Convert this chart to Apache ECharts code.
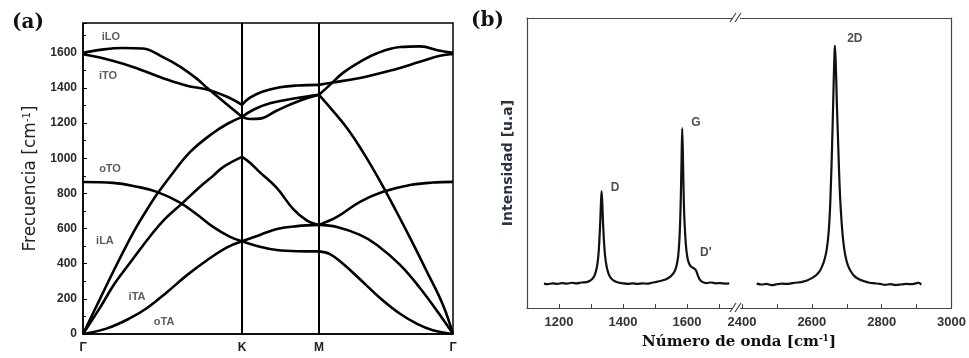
<!DOCTYPE html>
<html><head><meta charset="utf-8">
<script src="https://cdn.jsdelivr.net/npm/echarts@6/dist/echarts.min.js"></script>
<style>html,body{margin:0;padding:0;background:#fff}#c{width:969px;height:358px}</style>
</head><body><div id="c"></div>
<script>
// ---------- Panel (a): phonon dispersion of graphene ----------
// path coordinate: Γ = 0, K = 1, M = 1.484, Γ = 2.327
const pathTicks = [0, 1, 1.484, 2.327];
const pathLabels = ['Γ', 'K', 'M', 'Γ'];
const freqMax = 1770;
const freqStep = 200;

// Γ → K
const iLO_GK = [[0,1600],[0.107,1617],[0.25,1628],[0.377,1625],[0.503,1576],[0.61,1522],[0.717,1452],[0.78,1401],[0.906,1306],[1,1236]];
const iTO_GK = [[0,1592],[0.107,1573],[0.314,1520],[0.528,1448],[0.654,1413],[0.78,1391],[0.906,1350],[1,1304]];
const iLA_GK = [[0,0],[0.107,200],[0.189,353],[0.277,510],[0.34,615],[0.421,735],[0.465,795],[0.547,895],[0.673,1035],[0.818,1144],[0.912,1198],[1,1236]];
const iTA_GK = [[0,0],[0.107,150],[0.201,290],[0.296,405],[0.421,555],[0.516,655],[0.622,742],[0.736,838],[0.818,900],[0.881,950],[1,1008]];
const oTO_GK = [[0,865],[0.189,860],[0.34,838],[0.465,809],[0.61,748],[0.717,680],[0.818,610],[0.925,553],[1,528]];
const oTA_GK = [[0,0],[0.151,32],[0.296,90],[0.403,148],[0.528,238],[0.654,335],[0.78,420],[0.906,493],[1,528]];
// K → M
const iTO_KM = [[1,1304],[1.05,1345],[1.132,1380],[1.239,1404],[1.346,1414],[1.484,1418]];
const iLO_KM = [[1,1236],[1.069,1275],[1.176,1313],[1.346,1343],[1.484,1361]];
const iLA_KM = [[1,1236],[1.05,1224],[1.113,1226],[1.22,1272],[1.346,1322],[1.484,1361]];
const iTA_KM = [[1,1008],[1.05,975],[1.113,920],[1.22,830],[1.321,712],[1.409,645],[1.484,621]];
const oTO_KM = [[1,528],[1.113,564],[1.22,598],[1.346,614],[1.484,621]];
const oTA_KM = [[1,528],[1.113,497],[1.22,478],[1.346,471],[1.484,470]];
// M → Γ
const iTO_MG = [[1.484,1418],[1.553,1429],[1.742,1457],[1.95,1503],[2.119,1549],[2.245,1583],[2.327,1594]];
const iLO_MG = [[1.484,1361],[1.553,1418],[1.635,1486],[1.742,1549],[1.849,1598],[1.994,1633],[2.119,1637],[2.245,1612],[2.327,1600]];
const iLA_MG = [[1.484,1361],[1.553,1290],[1.66,1172],[1.761,1035],[1.868,870],[1.975,690],[2.057,547],[2.164,353],[2.264,165],[2.327,0]];
const oTO_MG = [[1.484,621],[1.597,666],[1.742,752],[1.887,809],[2.057,848],[2.2,862],[2.327,866]];
const iTA_MG = [[1.484,621],[1.597,609],[1.742,564],[1.849,507],[1.994,393],[2.119,262],[2.245,108],[2.327,0]];
const oTA_MG = [[1.484,470],[1.553,455],[1.635,400],[1.742,312],[1.868,205],[1.994,115],[2.101,58],[2.2,22],[2.327,0]];

const branchNames = ['iLO', 'iTO', 'oTO', 'iLA', 'iTA', 'oTA'];
const branchLabelAt = [[0.176,1691],[0.157,1469],[0.17,940],[0.138,530],[0.34,210],[0.51,68]];

// ---------- Panel (b): Raman spectrum ----------
const lowTicks = [1200, 1300, 1400, 1500, 1600, 1700];
const lowLabels = [1200, 1400, 1600];
const highTicks = [2400, 2500, 2600, 2700, 2800, 2900, 3000];
const highLabels = [2400, 2600, 2800, 3000];

const ramanLow = [[1153,8.4],[1165,8.2],[1180,8.5],[1195,8.3],[1210,8.6],[1225,8.4],[1240,8.7],[1255,8.5],[1270,8.8],[1285,8.9],[1297,9.4],[1306,10.3],[1313,11.8],[1319,14.5],[1323,18],[1326,23],[1329,30],[1331,36],[1333,40.3],[1335,37],[1337,31],[1340,24],[1344,18],[1349,14.2],[1355,11.8],[1363,10.2],[1373,9.3],[1385,8.8],[1400,8.5],[1415,8.3],[1430,8.5],[1445,8.3],[1460,8.5],[1475,8.4],[1490,8.7],[1505,9.0],[1520,9.4],[1535,9.9],[1548,10.8],[1558,12],[1566,14],[1572,17.5],[1576,23],[1579,31],[1581,40],[1583,51],[1585,62],[1587,54],[1589,42],[1591,33],[1594,26],[1598,20],[1603,16.5],[1609,14.8],[1616,14],[1623,13.6],[1629,12.8],[1634,11.2],[1640,9.8],[1648,9],[1660,8.6],[1675,8.8],[1690,8.5],[1705,8.6],[1720,8.4],[1732,8.5]];
const ramanHigh = [[2442,8.4],[2455,8.1],[2470,8.3],[2485,7.9],[2500,8.2],[2515,8.4],[2530,8.3],[2545,8.6],[2560,8.8],[2575,9.1],[2588,9.6],[2600,10.3],[2612,11.3],[2622,12.6],[2630,14.5],[2637,17],[2643,20.5],[2648,26],[2652,34],[2655,44],[2658,56],[2661,70],[2663,80],[2665,88],[2666,90.5],[2668,86],[2670,78],[2672,69],[2675,58],[2678,47],[2681,38],[2685,30],[2690,23],[2696,18],[2703,14.8],[2712,12.6],[2722,11],[2735,9.9],[2750,9.2],[2765,8.7],[2780,8.5],[2795,8.3],[2810,8.0],[2825,8.2],[2840,7.9],[2855,8.1],[2870,8.3],[2885,8.2],[2898,8.5],[2907,8.7],[2913,8.0]];

const peakNamesLow = ['D', 'G', "D'"];
const peakLabelAtLow = [[1375,41.5],[1628,64],[1659,19]];
const peakNamesHigh = ['2D'];
const peakLabelAtHigh = [[2723,93]];

// ---------- build ----------
const chart = echarts.init(document.getElementById('c'), null, {renderer: 'canvas'});
const branches = [iLO_GK, iTO_GK, iLA_GK, iTA_GK, oTO_GK, oTA_GK,
                  iTO_KM, iLO_KM, iLA_KM, iTA_KM, oTO_KM, oTA_KM,
                  iTO_MG, iLO_MG, iLA_MG, oTO_MG, iTA_MG, oTA_MG];
const sans = '"Liberation Sans", Arial, sans-serif';
const plain = v => String(v);
const series = branches.map((d, i) => ({
  type: 'line', xAxisIndex: 0, yAxisIndex: 0, data: d, showSymbol: false, silent: true,
  smooth: 0.4,
  lineStyle: {color: '#000', width: 2.6},
  markLine: i === 0 ? {
    symbol: ['none', 'none'], silent: true, label: {show: false},
    lineStyle: {color: '#000', width: 2, type: 'solid'},
    data: [{xAxis: pathTicks[1]}, {xAxis: pathTicks[2]}]
  } : undefined
}));
series.push({
  type: 'scatter', xAxisIndex: 0, yAxisIndex: 0, symbolSize: 0, silent: true,
  data: branchNames.map((n, i) => ({name: n, value: branchLabelAt[i]})),
  label: {show: true, position: 'inside', formatter: '{b}', color: '#333', fontSize: 11, fontWeight: 'bold', fontFamily: sans}
});
const specStyle = {type: 'line', showSymbol: false, silent: true, smooth: 0.25, lineStyle: {color: '#111', width: 2.2}};
series.push(Object.assign({}, specStyle, {xAxisIndex: 1, yAxisIndex: 1, data: ramanLow}));
series.push(Object.assign({}, specStyle, {xAxisIndex: 3, yAxisIndex: 2, data: ramanHigh}));
const peakLabel = {show: true, position: 'inside', formatter: '{b}', color: '#222', fontSize: 12, fontWeight: 'bold', fontFamily: sans};
series.push({type: 'scatter', xAxisIndex: 1, yAxisIndex: 1, symbolSize: 0, silent: true,
  data: peakNamesLow.map((n, i) => ({name: n, value: peakLabelAtLow[i]})), label: peakLabel});
series.push({type: 'scatter', xAxisIndex: 3, yAxisIndex: 2, symbolSize: 0, silent: true,
  data: peakNamesHigh.map((n, i) => ({name: n, value: peakLabelAtHigh[i]})), label: peakLabel});

const frameB = {show: true, lineStyle: {color: '#444', width: 1.2}};
const hidden = {axisTick: {show: false}, axisLabel: {show: false}, splitLine: {show: false}};
const tickLblB = {color: '#333', fontSize: 13, fontWeight: 'bold', fontFamily: sans, margin: 8, formatter: plain};

const option = {
  animation: false,
  backgroundColor: '#fff',
  grid: [
    {left: 83, top: 23, width: 370, height: 311, show: true, borderColor: '#000', borderWidth: 1.5},
    {left: 527, top: 18, width: 208, height: 290},
    {left: 735, top: 18, width: 217, height: 290}
  ],
  xAxis: [
    {type: 'value', gridIndex: 0, min: 0, max: pathTicks[3],
     axisLine: {show: true, lineStyle: {color: '#000', width: 1.5}}, axisTick: {show: false}, splitLine: {show: false},
     axisLabel: {customValues: pathTicks, formatter: v => pathLabels[pathTicks.indexOf(v)], color: '#222', fontSize: 12, fontWeight: 'bold', fontFamily: sans, margin: 8}},
    {type: 'value', gridIndex: 1, min: 1100, max: 1750, position: 'bottom', axisLine: frameB,
     axisTick: {show: true, inside: true, length: 4, customValues: lowTicks, lineStyle: {color: '#444'}},
     axisLabel: Object.assign({customValues: lowLabels}, tickLblB), splitLine: {show: false}},
    Object.assign({type: 'value', gridIndex: 1, min: 1100, max: 1750, position: 'top', axisLine: frameB}, hidden),
    {type: 'value', gridIndex: 2, min: 2380, max: 3000, position: 'bottom', axisLine: frameB,
     axisTick: {show: true, inside: true, length: 4, customValues: highTicks, lineStyle: {color: '#444'}},
     axisLabel: Object.assign({customValues: highLabels}, tickLblB), splitLine: {show: false}},
    Object.assign({type: 'value', gridIndex: 2, min: 2380, max: 3000, position: 'top', axisLine: frameB}, hidden)
  ],
  yAxis: [
    {type: 'value', gridIndex: 0, min: 0, max: freqMax, interval: freqStep,
     axisLine: {show: true, lineStyle: {color: '#000', width: 1.5}},
     axisTick: {show: true, inside: true, length: 4, lineStyle: {color: '#000'}},
     minorTick: {show: true, splitNumber: 2, length: 3, lineStyle: {color: '#000'}},
     splitLine: {show: false},
     axisLabel: {showMaxLabel: false, formatter: plain, color: '#2a2a2a', fontSize: 12, fontWeight: 'bold', fontFamily: sans, margin: 6},
     name: 'Frecuencia [cm{sup|-1}]', nameLocation: 'middle', nameGap: 44,
     nameTextStyle: {fontFamily: '"DejaVu Sans", sans-serif', fontSize: 17, color: '#222',
       rich: {sup: {fontFamily: '"DejaVu Sans", sans-serif', fontSize: 10, color: '#222', verticalAlign: 'top'}}}},
    Object.assign({type: 'value', gridIndex: 1, min: 0, max: 100, position: 'left', axisLine: frameB,
     name: 'Intensidad [u.a]', nameLocation: 'middle', nameGap: 12,
     nameTextStyle: {fontFamily: '"DejaVu Sans", sans-serif', fontSize: 14, fontWeight: 'bold', color: '#2a3240'}}, hidden),
    Object.assign({type: 'value', gridIndex: 2, min: 0, max: 100, position: 'right', axisLine: frameB}, hidden)
  ],
  graphic: [
    {type: 'text', left: 12, top: 13, style: {text: '(a)', font: 'bold 20px "DejaVu Serif", serif', fill: '#111'}},
    {type: 'text', left: 471, top: 11, style: {text: '(b)', font: 'bold 20px "DejaVu Serif", serif', fill: '#111'}},
    {type: 'text', x: 739, y: 342, style: {text: 'Número de onda [cm{sup|-1}]', font: 'bold 15px "DejaVu Serif", serif', fill: '#111',
      textAlign: 'center', textVerticalAlign: 'middle',
      rich: {sup: {font: 'bold 9px "DejaVu Serif", serif', fill: '#111', verticalAlign: 'top'}}}},
    {type: 'rect', z: 100, shape: {x: 733, y: 15, width: 7, height: 6}, style: {fill: '#fff'}},
    {type: 'rect', z: 100, shape: {x: 733, y: 305, width: 7, height: 6}, style: {fill: '#fff'}},
    {type: 'line', z: 101, shape: {x1: 730, y1: 22, x2: 736, y2: 13}, style: {stroke: '#444', lineWidth: 1.2}},
    {type: 'line', z: 101, shape: {x1: 735, y1: 22, x2: 741, y2: 13}, style: {stroke: '#444', lineWidth: 1.2}},
    {type: 'line', z: 101, shape: {x1: 730, y1: 312, x2: 736, y2: 303}, style: {stroke: '#444', lineWidth: 1.2}},
    {type: 'line', z: 101, shape: {x1: 735, y1: 312, x2: 741, y2: 303}, style: {stroke: '#444', lineWidth: 1.2}}
  ],
  series: series
};
chart.setOption(option);
</script></body></html>
